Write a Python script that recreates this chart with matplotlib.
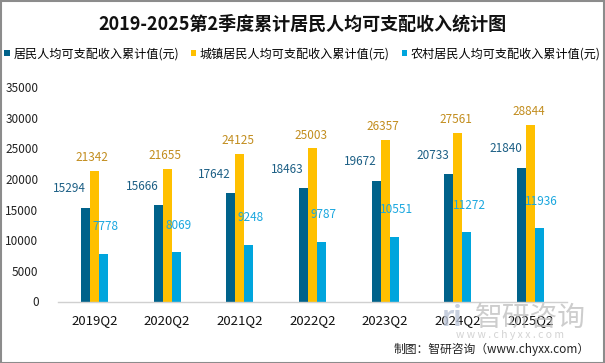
import numpy as np
import matplotlib
matplotlib.use("Agg")
import matplotlib.pyplot as plt
from matplotlib.patches import Rectangle

plt.rcParams['font.family'] = ['Noto Sans CJK SC', 'DejaVu Sans']

categories = ["2019Q2", "2020Q2", "2021Q2", "2022Q2", "2023Q2", "2024Q2", "2025Q2"]
series_names = ["居民人均可支配收入累计值(元)", "城镇居民人均可支配收入累计值(元)", "农村居民人均可支配收入累计值(元)"]
total = [15294, 15666, 17642, 18463, 19672, 20733, 21840]
urban = [21342, 21655, 24125, 25003, 26357, 27561, 28844]
rural = [7778, 8069, 9248, 9787, 10551, 11272, 11936]
yticks = [0, 5000, 10000, 15000, 20000, 25000, 30000, 35000]

bar_colors = ["#00628A", "#FFC000", "#00A5DD"]
label_colors = ["#1C5F85", "#C28D1E", "#1AA7DF"]
# label offsets in pixels (dx, dy) from the bar top centre
label_offsets = [(-16, 19), (-2, 13), (2, 27)]

fig = plt.figure(figsize=(6.05, 3.63), dpi=100)
W, H = 605, 363
ax = fig.add_axes([58 / W, 1 - 301.5 / H, (567 - 58) / W, (301.5 - 87) / H])

x = np.arange(len(categories))
bw = 0.124
for i, vals in enumerate([total, urban, rural]):
    pos = x + (i - 1) * bw
    ax.bar(pos, vals, width=bw, color=bar_colors[i], label=series_names[i], zorder=2)
    dx, dy = label_offsets[i]
    for p, v in zip(pos, vals):
        ax.annotate(str(v), (p, v), xytext=(dx * 0.72, dy * 0.72), textcoords="offset points",
                    ha="center", va="center", fontsize=8.5, color=label_colors[i])

ax.set_xlim(-0.5, len(categories) - 0.5)
ax.set_ylim(0, 35000)
ax.set_yticks(yticks)
ax.set_yticklabels([str(t) for t in yticks], fontsize=8.5, color="#222222")
ax.set_xticks(x)
ax.set_xticklabels(categories, fontsize=9.5, color="#111111")
ax.tick_params(axis="both", length=0)
ax.tick_params(axis="y", pad=14)
ax.tick_params(axis="x", pad=9)
for s in ["top", "right", "left"]:
    ax.spines[s].set_visible(False)
ax.spines["bottom"].set_color("#D0D0D0")
ax.spines["bottom"].set_linewidth(1)

fig.text(0.5, 1 - 24 / H, "2019-2025第2季度累计居民人均可支配收入统计图", ha="center", va="center",
         fontsize=13, fontweight="bold", color="#111111")

leg = fig.legend(loc="center", bbox_to_anchor=(0.5, 1 - 54 / H), ncol=3, frameon=False,
                 fontsize=8.7, handlelength=0.45, handleheight=0.45, handletextpad=0.3,
                 columnspacing=1.0)

# watermark
fig.text(462 / W, 1 - 318 / H, "ri", ha="right", va="center", fontsize=20, fontweight="bold",
         color="#B9C3D6", alpha=0.8, zorder=0)
fig.text(530 / W, 1 - 318 / H, "智研咨询", ha="center", va="center", fontsize=20,
         color="#B8B8B8", alpha=0.7, zorder=0)
fig.text(510 / W, 1 - 335 / H, "w w w . c h y x x . c o m", ha="center", va="center",
         fontsize=7.5, color="#C8C8C8", alpha=0.8, zorder=0)
fig.text(0.975, 1 - 349 / H, "制图：智研咨询（www.chyxx.com）", ha="right", va="center",
         fontsize=8.5, color="#222222")

fig.patches.append(Rectangle((0.5 / W, 0.5 / H), 1 - 1.5 / W, 1 - 1.5 / H, transform=fig.transFigure,
                             fill=False, edgecolor="#8C8C8C", linewidth=1.5))

fig.savefig("out.png", dpi=100, facecolor="white")
